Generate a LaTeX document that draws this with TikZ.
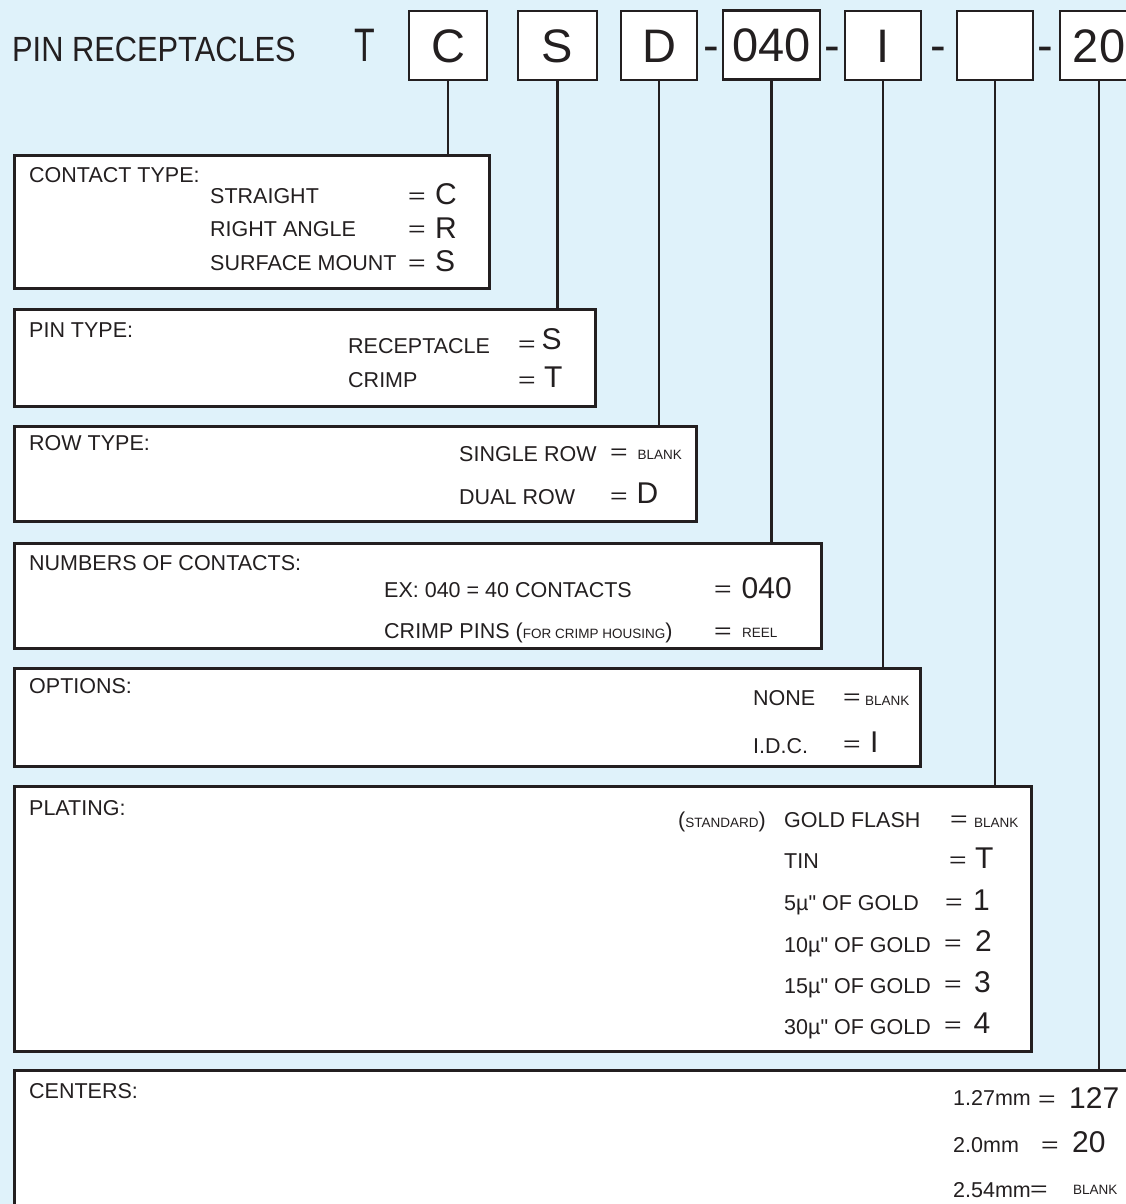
\documentclass[tikz,border=0pt]{standalone}
\usepackage{fontspec}
\setmainfont{Liberation Sans}[Ligatures=TeXOff]
\definecolor{bgblue}{HTML}{DFF2FA}
\definecolor{inkc}{HTML}{231F20}
\newcommand\fsTitle{\fontsize{35}{36}\selectfont}
\newcommand\fsBig{\fontsize{47}{48}\selectfont}
\newcommand\fsText{\fontsize{21.5}{23}\selectfont}
\newcommand\fsVal{\fontsize{30}{31}\selectfont}
\newcommand\fsSm{\fontsize{13.5}{14}\selectfont}
\newcommand\weq{\scalebox{1.4}[1]{=}}
\tikzset{
  topbox/.style={draw=inkc, fill=white, line width=2.8pt, inner sep=0pt,
    minimum height=69pt, font=\fsBig, text=inkc, text height=34pt, text depth=0pt},
  panel/.style={draw=inkc, fill=white, line width=2.8pt, inner sep=0pt, anchor=north west},
  conn/.style={draw=inkc, line width=2.6pt},
  lbl/.style={anchor=base west, inner sep=0pt, font=\fsText, text=inkc},
  eqs/.style={anchor=base west, inner sep=0pt, font=\fsText, text=inkc},
  val/.style={anchor=base west, inner sep=0pt, font=\fsVal, text=inkc},
  sm/.style={anchor=base west, inner sep=0pt, font=\fsSm, text=inkc},
  dsh/.style={anchor=base, inner sep=0pt, font=\fsBig, text=inkc}
}
\begin{document}
\begin{tikzpicture}[x=1pt,y=-1pt]
\useasboundingbox (0,0) rectangle (1126,1204);
\clip (0,0) rectangle (1126,1204);
\fill[bgblue] (0,0) rectangle (1126,1204);

% title
\node[anchor=base west, inner sep=0pt, font=\fsTitle, text=inkc] (title) at (12,62) {\scalebox{0.88}[1]{PIN RECEPTACLES}};
\node[anchor=base west, inner sep=0pt, font=\fsBig, text=inkc] (tT) at (354,62) {\scalebox{0.72}[1]{T}};

% top code boxes
\node[topbox, minimum width=78pt] (bC) at (448,45.5) {C};
\node[topbox, minimum width=79pt] (bS) at (557.5,45.5) {S};
\node[topbox, minimum width=76pt] (bD) at (659,45.5) {D};
\node[dsh] (d1) at (711.5,62) {-};
\node[topbox, minimum width=97pt] (bN) at (771.5,45) {040};
\node[dsh] (d2) at (832.5,62) {-};
\node[topbox, minimum width=76pt] (bI) at (883,45.5) {I};
\node[dsh] (d3) at (938,62) {-};
\node[topbox, minimum width=76pt] (bP) at (995,45.5) {};
\node[dsh] (d4) at (1045.5,62) {-};
\node[topbox, minimum width=78pt] (bW) at (1099,45.5) {20};

% panels
\node[panel, minimum width=475pt, minimum height=133pt] (pC) at (13,154) {};
\node[panel, minimum width=581pt, minimum height=97pt] (pS) at (13,308) {};
\node[panel, minimum width=682pt, minimum height=95pt] (pD) at (13,425) {};
\node[panel, minimum width=807pt, minimum height=105pt] (pN) at (13,542) {};
\node[panel, minimum width=906pt, minimum height=98pt] (pI) at (13,667) {};
\node[panel, minimum width=1017pt, minimum height=265pt] (pP) at (13,785) {};
\node[panel, minimum width=1150pt, minimum height=200pt] (pW) at (13,1069) {};

% connectors
\draw[conn] (bC.south) -- (bC.south |- pC.north);
\draw[conn] (bS.south) -- (bS.south |- pS.north);
\draw[conn] (bD.south) -- (bD.south |- pD.north);
\draw[conn] (bN.south) -- (bN.south |- pN.north);
\draw[conn] (bI.south) -- (bI.south |- pI.north);
\draw[conn] (bP.south) -- (bP.south |- pP.north);
\draw[conn] (bW.south) -- (bW.south |- pW.north);

% contact type
\node[lbl] (tC0) at (29,182) {CONTACT TYPE:};
\node[lbl] (tC1) at (210,203) {STRAIGHT};
\node[eqs] (eC1) at (408,203) {\weq};
\node[val] (vC1) at (435,204) {C};
\node[lbl] (tC2) at (210,236) {RIGHT ANGLE};
\node[eqs] (eC2) at (408,236) {\weq};
\node[val] (vC2) at (435,238) {R};
\node[lbl] (tC3) at (210,270) {SURFACE MOUNT};
\node[eqs] (eC3) at (408,270) {\weq};
\node[val] (vC3) at (435,271) {S};

% pin type
\node[lbl] (tS0) at (29,337) {PIN TYPE:};
\node[lbl] (tS1) at (348,353) {RECEPTACLE};
\node[eqs] (eS1) at (518,351) {\weq};
\node[val] (vS1) at (541.5,349) {S};
\node[lbl] (tS2) at (348,387) {CRIMP};
\node[eqs] (eS2) at (518,387) {\weq};
\node[val] (vS2) at (544,387) {T};

% row type
\node[lbl] (tD0) at (29,450) {ROW TYPE:};
\node[lbl] (tD1) at (459,461) {SINGLE ROW};
\node[eqs] (eD1) at (610,459) {\weq};
\node[sm] (vD1) at (637.5,459) {BLANK};
\node[lbl] (tD2) at (459,504) {DUAL ROW};
\node[eqs] (eD2) at (610,503) {\weq};
\node[val] (vD2) at (636.5,503) {D};

% numbers of contacts
\node[lbl] (tN0) at (29,570) {NUMBERS OF CONTACTS:};
\node[lbl] (tN1) at (384,597) {EX: 040 = 40 CONTACTS};
\node[eqs] (eN1) at (714,596) {\weq};
\node[val] (vN1) at (741.5,598) {040};
\node[lbl] (tN2) at (384,638) {CRIMP PINS ({\fsSm FOR CRIMP HOUSING})};
\node[eqs] (eN2) at (714,638) {\weq};
\node[sm] (vN2) at (742,637) {REEL};

% options
\node[lbl] (tI0) at (29,693) {OPTIONS:};
\node[lbl] (tI1) at (753,705) {NONE};
\node[eqs] (eI1) at (843,704) {\weq};
\node[sm] (vI1) at (865,705) {BLANK};
\node[lbl] (tI2) at (753,753) {I.D.C.};
\node[eqs] (eI2) at (843,751) {\weq};
\node[val] (vI2) at (870,752) {I};

% plating
\node[lbl] (tP0) at (29,815) {PLATING:};
\node[lbl] (tPs) at (678,827) {({\fsSm STANDARD})};
\node[lbl] (tP1) at (784,827) {GOLD FLASH};
\node[eqs] (eP1) at (950,826) {\weq};
\node[sm] (vP1) at (974,827) {BLANK};
\node[lbl] (tP2) at (784,868) {TIN};
\node[eqs] (eP2) at (949,867) {\weq};
\node[val] (vP2) at (975,868) {T};
\node[lbl] (tP3) at (784,910) {5µ" OF GOLD};
\node[eqs] (eP3) at (945,909) {\weq};
\node[val] (vP3) at (973,910) {1};
\node[lbl] (tP4) at (784,952) {10µ" OF GOLD};
\node[eqs] (eP4) at (944,950) {\weq};
\node[val] (vP4) at (975,951) {2};
\node[lbl] (tP5) at (784,993) {15µ" OF GOLD};
\node[eqs] (eP5) at (944,991) {\weq};
\node[val] (vP5) at (974,992) {3};
\node[lbl] (tP6) at (784,1034) {30µ" OF GOLD};
\node[eqs] (eP6) at (944,1032) {\weq};
\node[val] (vP6) at (973.5,1033) {4};

% centers
\node[lbl] (tW0) at (29,1098) {CENTERS:};
\node[lbl] (tW1) at (953,1105) {1.27mm};
\node[eqs] (eW1) at (1038,1106) {\weq};
\node[val] (vW1) at (1069,1108) {127};
\node[lbl] (tW2) at (953,1152) {2.0mm};
\node[eqs] (eW2) at (1041,1152) {\weq};
\node[val] (vW2) at (1072,1152) {20};
\node[lbl] (tW3) at (953,1197) {2.54mm};
\node[eqs] (eW3) at (1030,1196) {\weq};
\node[sm] (vW3) at (1073,1194) {BLANK};
\end{tikzpicture}
\end{document}
